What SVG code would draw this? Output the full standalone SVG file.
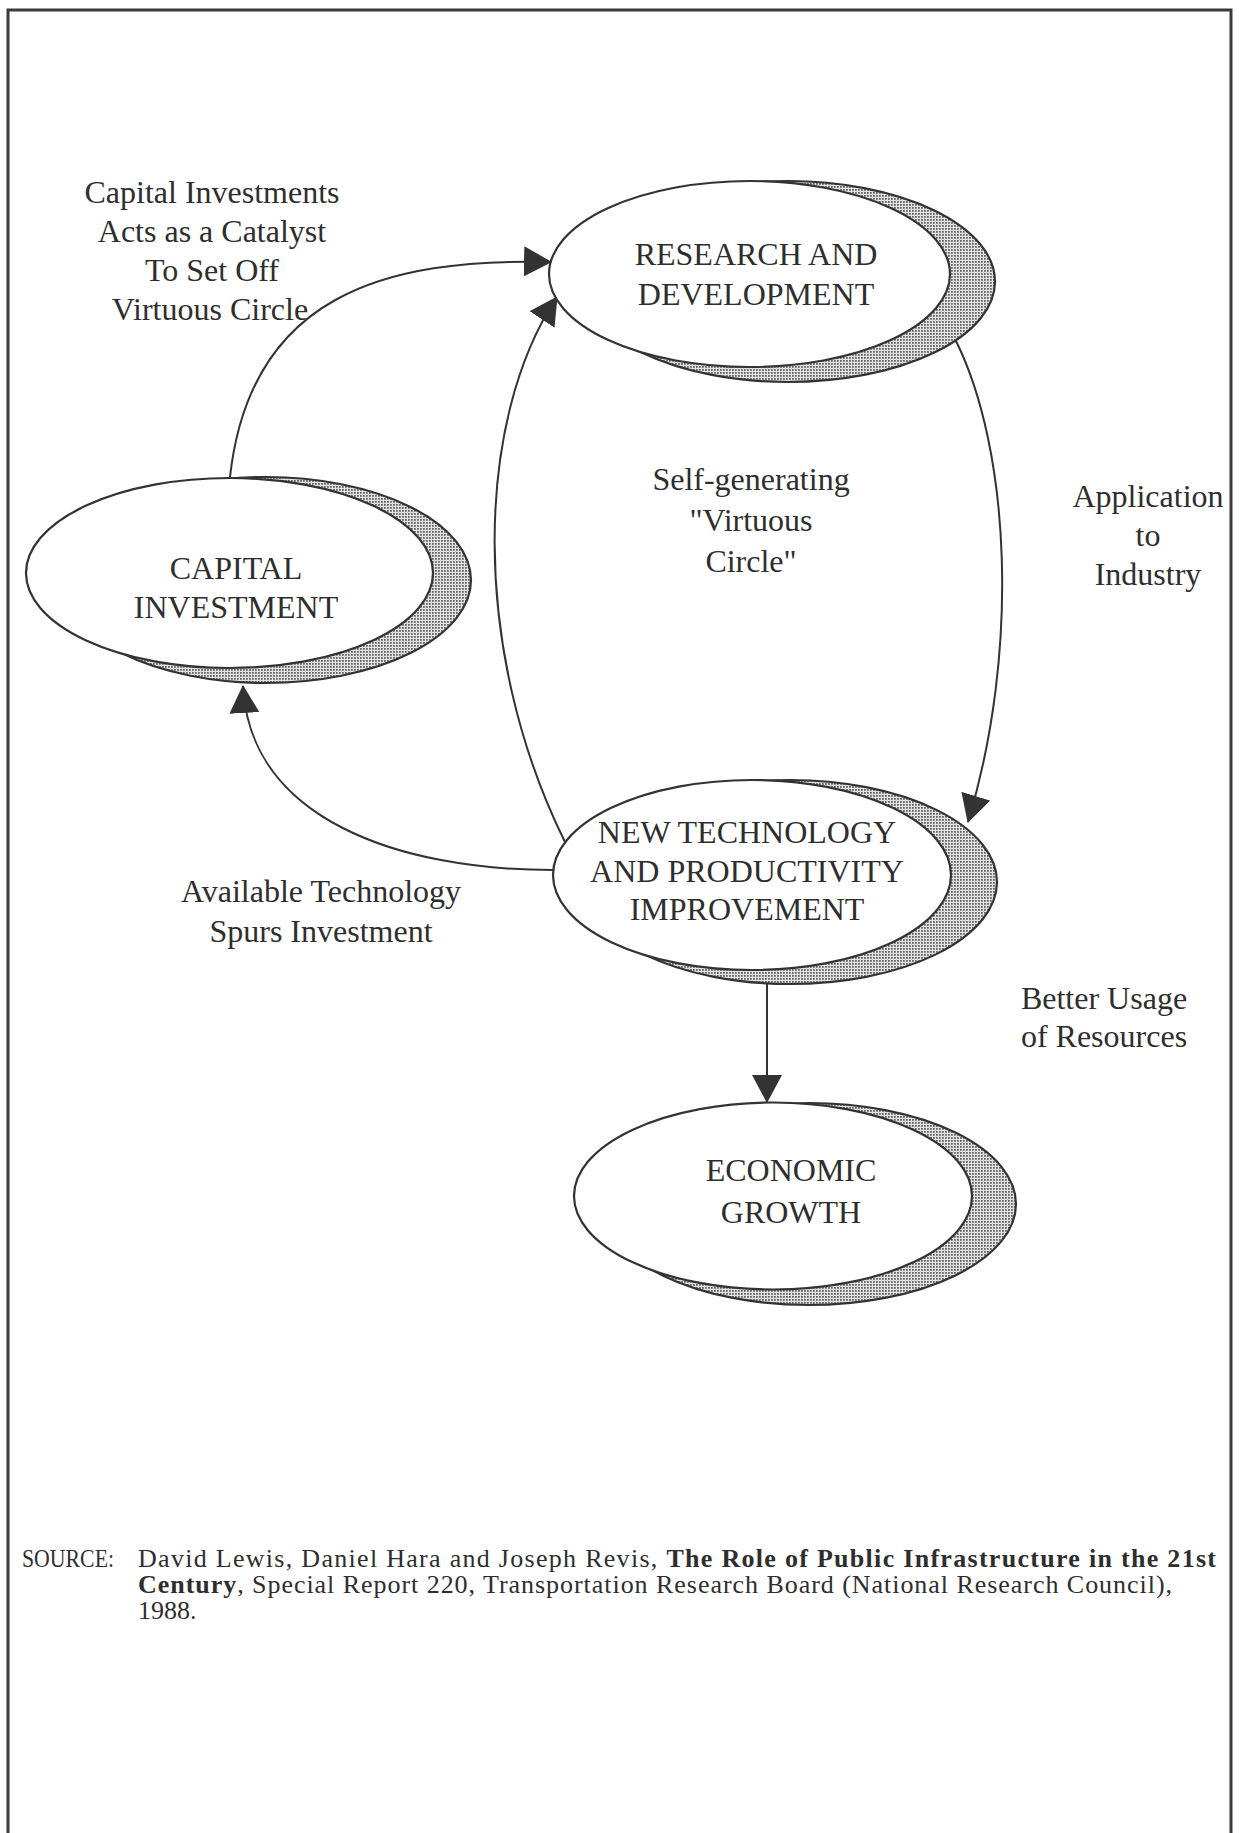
<svg xmlns="http://www.w3.org/2000/svg" width="1239" height="1833" viewBox="0 0 1239 1833">
  <defs>
    <pattern id="halftone" patternUnits="userSpaceOnUse" width="3" height="3">
      <rect width="3" height="3" fill="#e2e2e2"/>
      <rect width="1.8" height="1.8" fill="#666"/>
    </pattern>
    <marker id="ah" markerUnits="userSpaceOnUse" viewBox="0 0 28 30" markerWidth="28" markerHeight="30" refX="27" refY="15" orient="auto">
      <path d="M0,0 L28,15 L0,30 z" fill="#333"/>
    </marker>
    <style>
      .t { font-family: "Liberation Serif", "Times New Roman", serif; font-size: 32px; fill: #2e2e2e; text-anchor: middle; }
      .src { font-family: "Liberation Serif", "Times New Roman", serif; font-size: 26px; fill: #2e2e2e; }
      .shadow { fill: url(#halftone); stroke: #333; stroke-width: 2.2; }
      .face { fill: #ffffff; stroke: #333; stroke-width: 2.2; }
      .conn { fill: none; stroke: #333; stroke-width: 2; marker-end: url(#ah); }
      .frame { fill: none; stroke: #3a3a3a; stroke-width: 3; }
    </style>
  </defs>

  <rect width="1239" height="1833" fill="#ffffff"/>
  <rect class="frame" x="8" y="10" width="1223" height="1840"/>

  <g id="connectors">
    <path class="conn" d="M230,477 C250,295 385,258 551,262"/>
    <path class="conn" d="M565,842 C470,650 475,420 557,297"/>
    <path class="conn" d="M956,341 C1010,450 1020,650 968,822"/>
    <path class="conn" d="M553,870 C400,870 250,820 243,686"/>
    <path class="conn" d="M767,984 L767,1102"/>
  </g>

  <g id="node-research">
    <ellipse class="shadow" cx="788" cy="281.5" rx="207" ry="100.5"/>
    <ellipse class="face" cx="749.5" cy="274" rx="200.5" ry="93"/>
    <text class="t" x="756" y="265">RESEARCH AND</text>
    <text class="t" x="756" y="305">DEVELOPMENT</text>
  </g>

  <g id="node-capital">
    <ellipse class="shadow" cx="266" cy="580" rx="205" ry="103"/>
    <ellipse class="face" cx="229.5" cy="573" rx="203.5" ry="95"/>
    <text class="t" x="236" y="579">CAPITAL</text>
    <text class="t" x="236" y="618">INVESTMENT</text>
  </g>

  <g id="node-newtech">
    <ellipse class="shadow" cx="790" cy="882" rx="207" ry="102"/>
    <ellipse class="face" cx="752" cy="875" rx="199" ry="95"/>
    <text class="t" x="747" y="843">NEW TECHNOLOGY</text>
    <text class="t" x="747" y="882">AND PRODUCTIVITY</text>
    <text class="t" x="747" y="920">IMPROVEMENT</text>
  </g>

  <g id="node-growth">
    <ellipse class="shadow" cx="809" cy="1204" rx="207" ry="101"/>
    <ellipse class="face" cx="773" cy="1196" rx="199" ry="93.5"/>
    <text class="t" x="791" y="1181">ECONOMIC</text>
    <text class="t" x="791" y="1223">GROWTH</text>
  </g>

  <g id="labels">
    <text class="t" x="212" y="203">Capital Investments</text>
    <text class="t" x="212" y="242">Acts as a Catalyst</text>
    <text class="t" x="212" y="281">To Set Off</text>
    <text class="t" x="210" y="320">Virtuous Circle</text>

    <text class="t" x="751" y="490">Self-generating</text>
    <text class="t" x="751" y="531">"Virtuous</text>
    <text class="t" x="751" y="572">Circle"</text>

    <text class="t" x="1148" y="507">Application</text>
    <text class="t" x="1148" y="546">to</text>
    <text class="t" x="1148" y="585">Industry</text>

    <text class="t" x="321" y="902">Available Technology</text>
    <text class="t" x="321" y="942">Spurs Investment</text>

    <text class="t" x="1104" y="1009">Better Usage</text>
    <text class="t" x="1104" y="1047">of Resources</text>
  </g>

  <g id="source">
    <text class="src" x="22" y="1567" textLength="92" lengthAdjust="spacingAndGlyphs">SOURCE:</text>
    <text class="src" x="138" y="1567" textLength="1078" lengthAdjust="spacing">David Lewis, Daniel Hara and Joseph Revis, <tspan font-weight="bold">The Role of Public Infrastructure in the 21st</tspan></text>
    <text class="src" x="138" y="1593" textLength="1034" lengthAdjust="spacing"><tspan font-weight="bold">Century</tspan>, Special Report 220, Transportation Research Board (National Research Council),</text>
    <text class="src" x="138" y="1619">1988.</text>
  </g>
</svg>
